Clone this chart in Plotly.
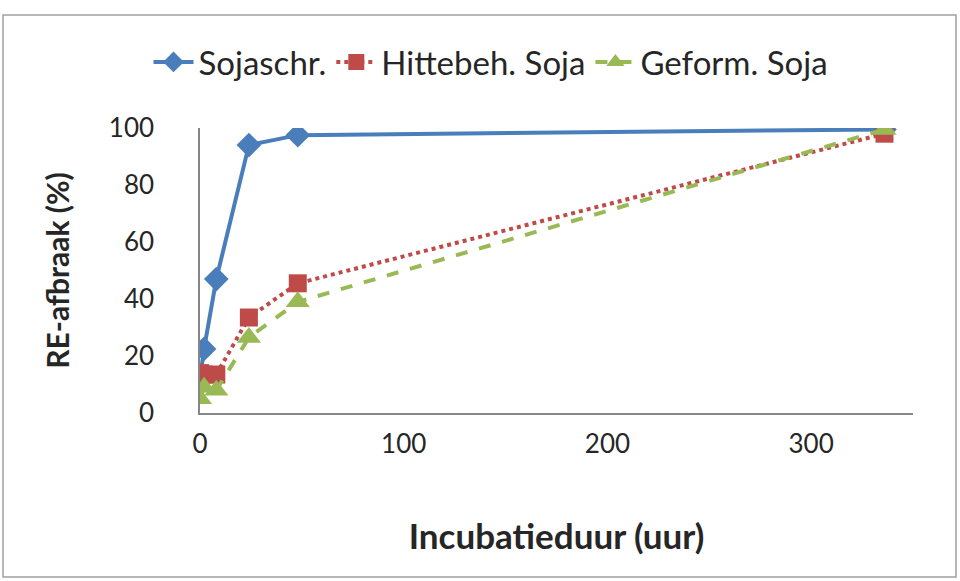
import plotly.graph_objects as go

# Data
times = [0, 2, 8, 24, 48, 336]
sojaschr = [12, 22.5, 47, 94, 97.5, 99.5]
hittebeh = [14, 13.5, 13.5, 33.5, 45.5, 98]
geform = [5, 9, 8, 26.5, 39, 99.5]

names = ["Sojaschr.", "Hittebeh. Soja", "Geform. Soja"]
x_ticks = [0, 100, 200, 300]
y_ticks = [0, 20, 40, 60, 80, 100]

FONT = "Lato, 'Open Sans', sans-serif"

W, H = 960, 581
L, R, T, B = 200, 47, 128, 168
PW, PH = W - L - R, H - T - B

fig = go.Figure()
fig.add_trace(go.Scatter(
    x=times, y=sojaschr, name=names[0], mode="lines+markers",
    line=dict(color="#4A7EBB", width=4),
    marker=dict(symbol="diamond", size=19, color="#4A7EBB"),
))
fig.add_trace(go.Scatter(
    x=times, y=hittebeh, name=names[1], mode="lines+markers",
    line=dict(color="#BE4B48", width=4, dash="dot"),
    marker=dict(symbol="square", size=18, color="#BE4B48"),
))
fig.add_trace(go.Scatter(
    x=times, y=geform, name=names[2], mode="lines+markers",
    line=dict(color="#98B954", width=4, dash="dash"),
    marker=dict(symbol="triangle-up", size=21, color="#98B954"),
))

fig.update_layout(
    width=W, height=H,
    margin=dict(l=L, r=R, t=T, b=B, autoexpand=False),
    paper_bgcolor="white", plot_bgcolor="white",
    font=dict(family=FONT, size=26, color="#262626"),
    legend=dict(orientation="h", x=(491 - L) / PW, xanchor="center",
                y=(H - B - 62) / PH, yanchor="middle",
                bgcolor="rgba(0,0,0,0)",
                font=dict(size=33), itemwidth=40, traceorder="normal"),
    shapes=[dict(type="rect", xref="paper", yref="paper",
                 x0=-(L - 3) / PW, x1=1 + (R - 4) / PW,
                 y0=-(B - 4) / PH, y1=1 + (T - 15) / PH,
                 line=dict(color="#A0A0A0", width=1.5))],
)
fig.update_xaxes(
    range=[0, 350], tickvals=x_ticks, showgrid=False, zeroline=False,
    showline=True, linecolor="#868686", linewidth=1.5, ticks="",
    ticklabelstandoff=7,
    title=dict(text="<b>Incubatieduur (uur)</b>", font=dict(size=35), standoff=67),
)
fig.update_yaxes(
    range=[0, 100], tickvals=y_ticks, showgrid=False, zeroline=False,
    showline=True, linecolor="#868686", linewidth=1.5, ticks="",
    ticklabelstandoff=39,
    title=dict(text="<b>RE-afbraak (%)</b>", font=dict(size=30), standoff=30),
)

fig.write_html("out.html", config={"displayModeBar": False},
               post_script="document.body.style.margin='0px';")
